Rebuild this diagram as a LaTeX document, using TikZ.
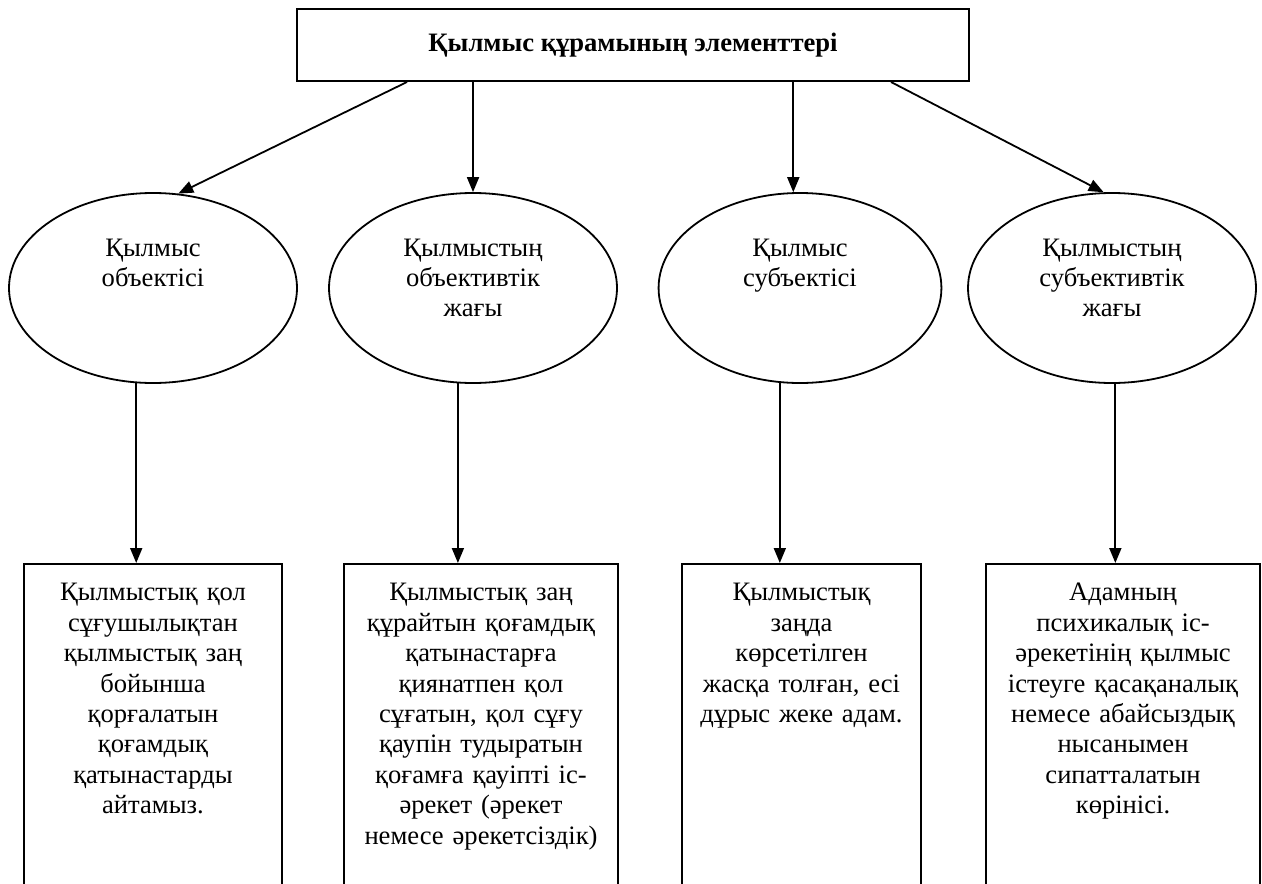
\documentclass[tikz,border=0pt]{standalone}
\usepackage{fontspec}
\setmainfont{Liberation Serif}
\usetikzlibrary{arrows.meta,shapes.geometric}
\newcommand{\diagfont}{\fontsize{13.3}{15.2}\selectfont}
\tikzset{
    headBox/.style={draw, rectangle, line width=1pt, minimum width=336pt, minimum height=36pt, font=\diagfont\bfseries, align=center},
    partEll/.style={draw, ellipse, line width=0.9pt, inner sep=0pt, minimum height=95pt, text width=100pt, align=center, text height=10pt, text depth=42pt},
    descBox/.style={draw, rectangle, line width=0.9pt, anchor=north, inner sep=4pt, align=center, text height=14.5pt, text depth=250pt},
    downArrow/.style={line width=0.9pt, -{Triangle[length=7.5pt, width=6pt]}},
}

\begin{document}
\begin{tikzpicture}[x=0.5pt, y=-0.5pt, font=\diagfont]
\clip (0,0) rectangle (1262,883);

\node[headBox] (title) at (633,45) {Қылмыс құрамының элементтері};

\node[partEll, minimum width=144pt] (e1) at (153,288) {Қылмыс\\объектісі};
\node[partEll, minimum width=144pt] (e2) at (473,288) {Қылмыстың\\объективтік\\жағы};
\node[partEll, minimum width=136pt] (e3) at (800,288) {Қылмыс\\субъектісі};
\node[partEll, minimum width=144pt] (e4) at (1112,288) {Қылмыстың\\субъективтік\\жағы};

\draw[downArrow] ([xshift=55.5pt]title.south west) -- (e1.75);
\draw[downArrow] (e2.north |- title.south) -- (e2.north);
\draw[downArrow] (e3.94 |- title.south) -- (e3.94);
\draw[downArrow] ([xshift=-39.5pt]title.south east) -- (e4.95);

\node[descBox, text width=121pt] (b1) at (153,563) {Қылмыстық қол\\сұғушылықтан\\қылмыстық заң\\бойынша\\қорғалатын\\қоғамдық\\қатынастарды\\айтамыз.};
\node[descBox, text width=129pt] (b2) at (481,563) {Қылмыстық заң\\құрайтын қоғамдық\\қатынастарға\\қиянатпен қол\\сұғатын, қол сұғу\\қаупін тудыратын\\қоғамға қауіпті іс-\\әрекет (әрекет\\немесе әрекетсіздік)};
\node[descBox, text width=111.5pt] (b3) at (801.5,563) {Қылмыстық\\заңда\\көрсетілген\\жасқа толған, есі\\дұрыс жеке адам.};
\node[descBox, text width=129pt] (b4) at (1123,563) {Адамның\\психикалық іс-\\әрекетінің қылмыс\\істеуге қасақаналық\\немесе абайсыздық\\нысанымен\\сипатталатын\\көрінісі.};

\draw[downArrow] (e1.260) -- (e1.260 |- b1.north);
\draw[downArrow] (e2.261) -- (e2.261 |- b2.north);
\draw[downArrow] (e3.258) -- (e3.258 |- b3.north);
\draw[downArrow] (e4.272) -- (e4.272 |- b4.north);
\end{tikzpicture}
\end{document}
